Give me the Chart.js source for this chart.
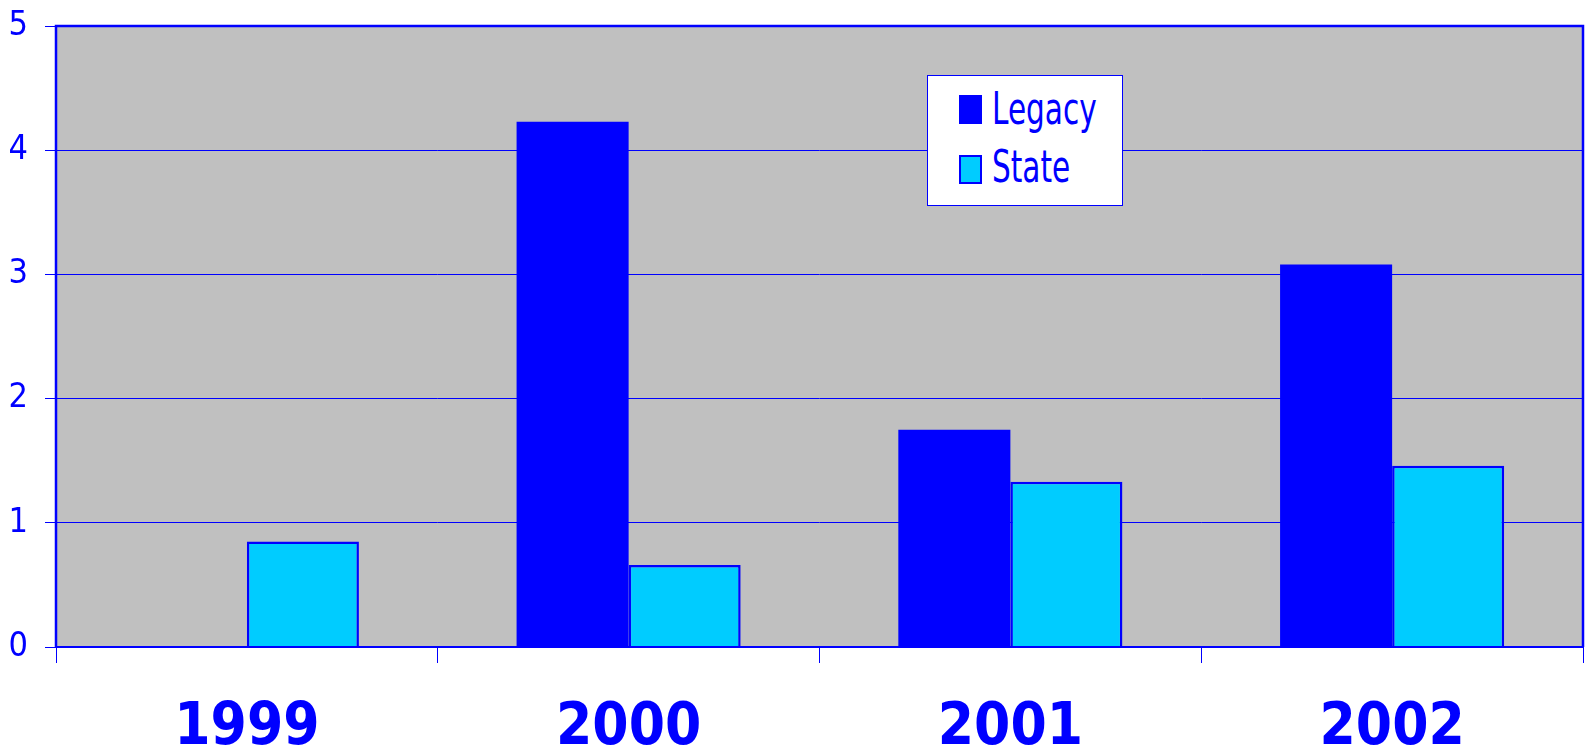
<!DOCTYPE html>
<html>
<head>
<meta charset="utf-8">
<script src="https://cdn.jsdelivr.net/npm/chart.js@4.4.0/dist/chart.umd.min.js"></script>
<style>
  html, body { margin: 0; padding: 0; background: #fff; overflow: hidden; }
  #wrap { position: relative; width: 1588px; height: 745px; }
  #leyenda {
    position: absolute; left: 927px; top: 75px; width: 194px; height: 129px;
    background: #fff; border: 1px solid #0000ff;
    font-family: "DejaVu Sans Condensed", "DejaVu Sans", sans-serif;
    color: #0000ff; font-size: 45px;
  }
  .caja { position: absolute; left: 31px; width: 23px; height: 29px; box-sizing: border-box; }
  .txt {
    position: absolute; left: 64px; line-height: 45px; white-space: nowrap;
    transform: scaleX(0.73); transform-origin: left center;
  }
</style>
</head>
<body>
<div id="wrap">
  <canvas id="grafica" width="1588" height="745"></canvas>
  <div id="leyenda">
    <div class="caja" style="top:19px;background:#0000ff;"></div>
    <div class="txt" style="top:10px;">Legacy</div>
    <div class="caja" style="top:79px;background:#00ccff;border:2px solid #0000ff;"></div>
    <div class="txt" style="top:68px;">State</div>
  </div>
</div>
<script>
const anios = ["1999", "2000", "2001", "2002"];
const legacy = [0, 4.23, 1.75, 3.08];
const estatal = [0.85, 0.66, 1.33, 1.46];
const ticksY = [0, 1, 2, 3, 4, 5];

const azul = "#0000ff";
const fuente = "'DejaVu Sans Condensed', 'DejaVu Sans', sans-serif";

// fondo gris y marco del area
const fondoPlot = {
  id: "fondoPlot",
  beforeDraw(chart) {
    const { ctx, chartArea: a } = chart;
    ctx.save();
    ctx.fillStyle = "#c0c0c0";
    ctx.fillRect(a.left, a.top, a.right - a.left, a.bottom - a.top);
    ctx.restore();
  },
  afterDatasetsDraw(chart) {
    const { ctx, chartArea: a } = chart;
    ctx.save();
    ctx.strokeStyle = azul;
    ctx.lineWidth = 2.5;
    ctx.beginPath();
    ctx.moveTo(a.left, a.bottom);
    ctx.lineTo(a.left, a.top);
    ctx.lineTo(a.right, a.top);
    ctx.lineTo(a.right, a.bottom);
    ctx.stroke();
    ctx.lineWidth = 2;
    ctx.beginPath();
    ctx.moveTo(a.left, a.bottom);
    ctx.lineTo(a.right, a.bottom);
    ctx.stroke();
    ctx.restore();
  }
};

let ctx = document.getElementById("grafica").getContext("2d");
let grafica = new Chart(ctx, {
  type: "bar",
  data: {
    labels: anios,
    datasets: [
      {
        label: "Legacy",
        data: legacy,
        backgroundColor: azul,
        borderWidth: 0
      },
      {
        label: "State",
        data: estatal,
        backgroundColor: "#00ccff",
        borderColor: azul,
        borderWidth: 2.5,
        borderSkipped: "bottom"
      }
    ]
  },
  options: {
    responsive: false,
    animation: false,
    categoryPercentage: 0.587,
    barPercentage: 1,
    layout: { padding: { left: 0, top: 26, right: 5, bottom: 0 } },
    plugins: {
      legend: { display: false },
      tooltip: { enabled: false },
      title: { display: false }
    },
    scales: {
      x: {
        afterFit(axis) { axis.height = 98; },
        grid: {
          display: true, offset: true, drawOnChartArea: false,
          color: azul, tickLength: 16, lineWidth: 1
        },
        border: { display: false },
        ticks: {
          color: azul, padding: 31,
          font: { family: fuente, size: 58, weight: "bold" }
        }
      },
      y: {
        min: 0, max: 5,
        afterBuildTicks(axis) { axis.ticks = ticksY.map(v => ({ value: v })); },
        afterFit(axis) {
          axis.width = 56;
          axis.paddingTop = 0;
          axis.paddingBottom = 0;
        },
        grid: { color: azul, lineWidth: 1, tickLength: 11 },
        border: { display: false },
        ticks: {
          color: azul, padding: 17,
          font: { family: fuente, size: 34 }
        }
      }
    }
  },
  plugins: [fondoPlot]
});
</script>
</body>
</html>
